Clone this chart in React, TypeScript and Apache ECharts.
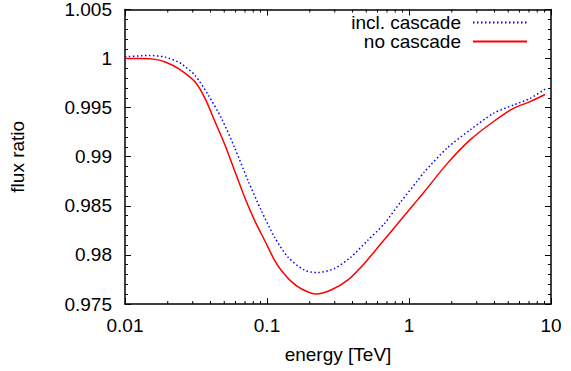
import React, { useEffect, useRef } from "react";
import * as echarts from "echarts";

// energy [TeV] and flux ratio
const energyInclCascade = [
  0.01, 0.0147, 0.0192, 0.0238, 0.0251, 0.0311, 0.0386, 0.0478, 0.0593, 0.0737,
  0.0913, 0.1131, 0.1404, 0.1835, 0.2279, 0.2979, 0.39, 0.5107, 0.6676, 0.8738,
  1.1445, 1.273, 1.857, 2.705, 3.94, 5.441, 7.124, 9.077,
];
const ratioInclCascade = [
  1.00018, 1.00032, 1.00015, 0.99965, 0.99945, 0.9983, 0.99628, 0.99392, 0.99089, 0.98753,
  0.9845, 0.9818, 0.97978, 0.97844, 0.9782, 0.97861, 0.97978, 0.98147, 0.98315, 0.9854,
  0.98753, 0.9884, 0.99089, 0.99275, 0.99443, 0.99527, 0.99594, 0.99689,
];

const energyNoCascade = [
  0.01, 0.0132, 0.0163, 0.0192, 0.0238, 0.0311, 0.0366, 0.043, 0.0505, 0.0593,
  0.0697, 0.0819, 0.0963, 0.1131, 0.126, 0.1481, 0.174, 0.2217, 0.2824, 0.3698,
  0.4834, 0.633, 0.8288, 1.0834, 1.273, 1.857, 2.705, 3.94, 5.441, 7.124, 9.077,
];
const ratioNoCascade = [
  1.0, 1.0, 0.99992, 0.99965, 0.99897, 0.99763, 0.99594, 0.99359, 0.99123, 0.98854,
  0.98584, 0.98349, 0.98147, 0.97945, 0.97844, 0.9773, 0.97655, 0.97601, 0.97642, 0.97743,
  0.97911, 0.98113, 0.98315, 0.98517, 0.98638, 0.9893, 0.99174, 0.99359, 0.99493, 0.99561, 0.99634,
];

const seriesNames = ["incl. cascade", "no cascade"];
const xMin = 0.01;
const xMax = 10;
const yMin = 0.975;
const yMax = 1.005;
const yStep = 0.005;
const minorEnergyTicks = [
  0.02, 0.03, 0.04, 0.05, 0.06, 0.07, 0.08, 0.09,
  0.2, 0.3, 0.4, 0.5, 0.6, 0.7, 0.8, 0.9,
  2, 3, 4, 5, 6, 7, 8, 9,
];

export default function App() {
  const ref = useRef<HTMLDivElement>(null);
  useEffect(() => {
    document.body.style.margin = "0";
    const chart = echarts.init(ref.current!, null, { renderer: "svg" });
    const font = "'Liberation Sans', Arial, Helvetica, sans-serif";
    const fs = 19;
    const black = "#000";
    const axisLine = { show: true, lineStyle: { color: black, width: 1.5 } };
    const axisTick = { show: true, inside: true, length: 6, lineStyle: { color: black, width: 1 } };
    const minorTick = { show: true, splitNumber: 5, length: 3, lineStyle: { color: black, width: 1 } };
    const fmt = (v: number) => String(Number(Number(v).toFixed(3)));
    const xFmt = (v: number) => String(Number(Number(v).toPrecision(6)));
    const minorLen = 3;

    chart.setOption({
      animation: false,
      textStyle: { fontFamily: font },
      grid: { left: 123, right: 20, top: 7, bottom: 67 },
      legend: {
        data: seriesNames,
        orient: "vertical",
        align: "right",
        right: 43,
        top: 13,
        padding: 0,
        itemWidth: 54,
        itemHeight: 10,
        itemGap: 0,
        itemStyle: { opacity: 0 },
        textStyle: { fontFamily: font, fontSize: fs, color: black, lineHeight: 19, padding: [0, 7, 0, 0] },
      },
      xAxis: [
        {
          type: "log",
          logBase: 10,
          min: xMin,
          max: xMax,
          position: "bottom",
          axisLine,
          axisTick,
          splitLine: { show: false },
          axisLabel: { fontFamily: font, fontSize: fs, color: black, margin: 12, formatter: xFmt },
          name: "energy [TeV]",
          nameLocation: "middle",
          nameGap: 41,
          nameTextStyle: { fontFamily: font, fontSize: fs, color: black },
        },
        {
          type: "log",
          logBase: 10,
          min: xMin,
          max: xMax,
          position: "top",
          axisLine,
          axisTick,
          splitLine: { show: false },
          axisLabel: { show: false },
        },
      ],
      yAxis: [
        {
          type: "value",
          min: yMin,
          max: yMax,
          interval: yStep,
          position: "left",
          axisLine,
          axisTick,
          minorTick,
          splitLine: { show: false },
          axisLabel: { fontFamily: font, fontSize: fs, color: black, margin: 13, formatter: fmt },
          name: "flux ratio",
          nameLocation: "middle",
          nameRotate: 90,
          nameGap: 98,
          nameTextStyle: { fontFamily: font, fontSize: fs, color: black },
        },
        {
          type: "value",
          min: yMin,
          max: yMax,
          interval: yStep,
          position: "right",
          axisLine,
          axisTick,
          minorTick,
          splitLine: { show: false },
          axisLabel: { show: false },
        },
      ],
      series: [
        {
          name: seriesNames[0],
          type: "line",
          data: energyInclCascade.map((e, i) => [e, ratioInclCascade[i]]),
          symbol: "none",
          smooth: 0.25,
          lineStyle: { color: "#0000ff", width: 1.5, type: [1.5, 2.5] },
          itemStyle: { color: "#0000ff", opacity: 0 },
        },
        {
          name: seriesNames[1],
          type: "line",
          data: energyNoCascade.map((e, i) => [e, ratioNoCascade[i]]),
          symbol: "none",
          smooth: 0.25,
          lineStyle: { color: "#ff0000", width: 1.5, type: "solid" },
          itemStyle: { color: "#ff0000", opacity: 0 },
        },
        {
          name: "minor ticks",
          type: "custom",
          silent: true,
          data: minorEnergyTicks.map((v) => [v, yMin]),
          renderItem: (_params: any, api: any) => {
            const x = api.value(0);
            const b = api.coord([x, yMin]);
            const t = api.coord([x, yMax]);
            const style = { stroke: black, lineWidth: 1 };
            return {
              type: "group",
              children: [
                { type: "line", shape: { x1: b[0], y1: b[1], x2: b[0], y2: b[1] - minorLen }, style },
                { type: "line", shape: { x1: t[0], y1: t[1], x2: t[0], y2: t[1] + minorLen }, style },
              ],
            };
          },
        },
      ],
    });
    return () => chart.dispose();
  }, []);
  return <div ref={ref} style={{ width: 571, height: 371 }} />;
}
